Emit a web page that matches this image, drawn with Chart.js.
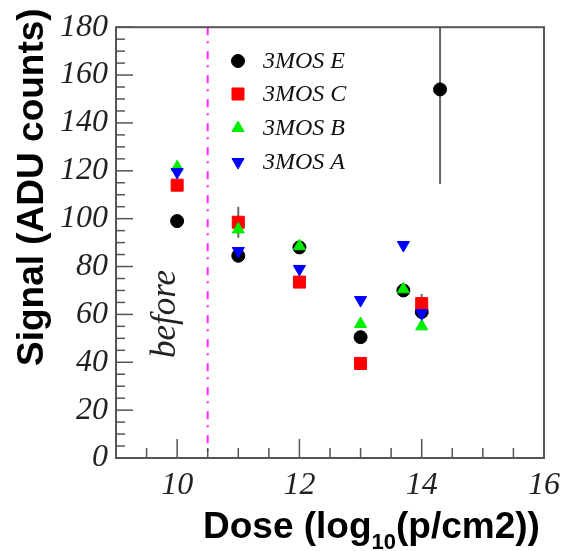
<!DOCTYPE html>
<html>
<head>
<meta charset="utf-8">
<script src="https://cdn.jsdelivr.net/npm/chart.js@4.4.0/dist/chart.umd.min.js"></script>
<style>
  body { margin: 0; background: #fff; }
  #wrap { width: 568px; height: 551px; }
</style>
</head>
<body>
<div id="wrap"><canvas id="doseChart"></canvas></div>
<script>
// dose (log10 p/cm2) and signal (ADU counts) for each device
const doseE = [10, 11, 12, 13, 13.7, 14, 14.3];
const signalE = [99, 84.5, 88, 50.5, 70, 61, 154];
const errE = [0, 0, 0, 0, 0, 0, 39.5];

const doseC = [10, 11, 12, 13, 14];
const signalC = [114, 98.5, 73.5, 39.5, 64.5];
const errC = [0, 6.5, 0, 0, 4];

const doseB = [10, 11, 12, 13, 13.7, 14];
const signalB = [121.5, 95.5, 88.5, 56, 70.5, 55];

const doseA = [10, 11, 12, 13, 13.7, 14];
const signalA = [119.5, 86.5, 79, 66, 89, 60.5];

const seriesLabels = ['3MOS E', '3MOS C', '3MOS B', '3MOS A'];
const xLabelTicks = [10, 12, 14, 16];
const beforeDose = 10.5;

const toPoints = (xs, ys) => xs.map((v, i) => ({ x: v, y: ys[i] }));

const serifItalic = sz => `italic ${sz}px "Liberation Serif", "DejaVu Serif", serif`;
const sansBold = sz => `bold ${sz}px "Liberation Sans", Arial, sans-serif`;

// frame, inner ticks, error bars, legend and titles
const decor = {
  id: 'decor',
  beforeDatasetsDraw(chart) {
    const { ctx, chartArea: a, scales: { x, y } } = chart;
    ctx.save();
    ctx.beginPath();
    ctx.rect(a.left, a.top, a.right - a.left, a.bottom - a.top);
    ctx.clip();

    // "before" separator (dash-dot)
    const bx = x.getPixelForValue(beforeDose);
    ctx.strokeStyle = '#ff22ff';
    ctx.lineWidth = 2;
    ctx.setLineDash([8, 6, 2, 8]);
    ctx.beginPath();
    ctx.moveTo(bx, a.top);
    ctx.lineTo(bx, a.bottom);
    ctx.stroke();
    ctx.setLineDash([]);

    // error bars
    chart.data.datasets.forEach(ds => {
      if (!ds.errY) return;
      ds.data.forEach((p, i) => {
        const e = ds.errY[i];
        if (!e) return;
        const px = x.getPixelForValue(p.x);
        ctx.strokeStyle = '#666';
        ctx.lineWidth = 2;
        ctx.beginPath();
        ctx.moveTo(px, y.getPixelForValue(p.y + e));
        ctx.lineTo(px, y.getPixelForValue(p.y - e));
        ctx.stroke();
      });
    });
    ctx.restore();
  },
  afterDraw(chart) {
    const { ctx, chartArea: a, scales: { x, y } } = chart;
    ctx.save();

    // ticks pointing into the frame
    ctx.strokeStyle = '#555';
    ctx.lineWidth = 1.5;
    x.ticks.forEach(t => {
      const px = x.getPixelForValue(t.value);
      const len = (t.value % 2 === 0) ? 19 : 10;
      ctx.beginPath();
      ctx.moveTo(px, a.bottom);
      ctx.lineTo(px, a.bottom - len);
      ctx.stroke();
    });
    y.ticks.forEach(t => {
      const py = y.getPixelForValue(t.value);
      const len = (t.value % 20 === 0) ? 17 : 9;
      ctx.beginPath();
      ctx.moveTo(a.left, py);
      ctx.lineTo(a.left + len, py);
      ctx.stroke();
    });

    // frame
    ctx.lineWidth = 2;
    ctx.strokeRect(a.left, a.top, a.right - a.left, a.bottom - a.top);

    // legend
    const rows = [61, 94, 128, 162];
    chart.data.datasets.forEach((ds, i) => {
      ctx.fillStyle = ds.backgroundColor;
      ctx.strokeStyle = ds.borderColor;
      ctx.lineWidth = 1;
      Chart.helpers.drawPoint(ctx, {
        pointStyle: ds.pointStyle,
        radius: ds.pointRadius,
        rotation: ds.pointRotation || 0,
        borderWidth: 1
      }, 238, rows[i]);
      ctx.fillStyle = '#111';
      ctx.font = serifItalic(24);
      ctx.textAlign = 'left';
      ctx.textBaseline = 'middle';
      ctx.fillText(ds.label, 263, rows[i] + 1);
    });

    // "before" label
    ctx.save();
    ctx.translate(175, 314);
    ctx.rotate(-Math.PI / 2);
    ctx.font = serifItalic(35);
    ctx.fillStyle = '#222';
    ctx.textAlign = 'center';
    ctx.textBaseline = 'alphabetic';
    ctx.fillText('before', 0, 0);
    ctx.restore();

    // y title
    ctx.save();
    ctx.translate(43, 366);
    ctx.rotate(-Math.PI / 2);
    ctx.font = sansBold(37);
    ctx.fillStyle = '#000';
    ctx.textAlign = 'left';
    ctx.textBaseline = 'alphabetic';
    ctx.fillText('Signal (ADU counts)', 0, 0);
    ctx.restore();

    // x title with subscript
    ctx.fillStyle = '#000';
    ctx.textAlign = 'left';
    ctx.textBaseline = 'alphabetic';
    let tx = 203;
    const base = 538;
    ctx.font = sansBold(37);
    ctx.fillText('Dose (log', tx, base);
    tx += ctx.measureText('Dose (log').width;
    ctx.font = sansBold(22);
    ctx.fillText('10', tx, base + 11);
    tx += ctx.measureText('10').width;
    ctx.font = sansBold(37);
    ctx.fillText('(p/cm2))', tx, base);

    ctx.restore();
  }
};

const ctx1 = document.getElementById('doseChart');
const doseChart = new Chart(ctx1.getContext('2d'), {
  type: 'scatter',
  data: {
    datasets: [
      {
        label: seriesLabels[0],
        data: toPoints(doseE, signalE),
        errY: errE,
        pointStyle: 'circle',
        pointRadius: 6.5,
        backgroundColor: '#000000',
        borderColor: '#000000',
        order: 4
      },
      {
        label: seriesLabels[1],
        data: toPoints(doseC, signalC),
        errY: errC,
        pointStyle: 'rect',
        pointRadius: 8.5,
        backgroundColor: '#ff0000',
        borderColor: '#ff0000',
        order: 3
      },
      {
        label: seriesLabels[2],
        data: toPoints(doseB, signalB),
        pointStyle: 'triangle',
        pointRadius: 7,
        backgroundColor: '#00ee00',
        borderColor: '#00ee00',
        order: 2
      },
      {
        label: seriesLabels[3],
        data: toPoints(doseA, signalA),
        pointStyle: 'triangle',
        pointRotation: 180,
        pointRadius: 7,
        backgroundColor: '#0000ff',
        borderColor: '#0000ff',
        order: 1
      }
    ]
  },
  options: {
    responsive: true,
    maintainAspectRatio: false,
    animation: false,
    layout: { padding: { top: 26, right: 22, left: 0, bottom: 0 } },
    scales: {
      x: {
        type: 'linear',
        min: 9,
        max: 16,
        grid: { display: false, drawTicks: false },
        border: { display: false },
        afterFit: scale => { scale.height = 93; },
        ticks: {
          stepSize: 0.5,
          autoSkip: false,
          maxRotation: 0,
          padding: 8,
          color: '#222',
          font: { family: '"Liberation Serif", serif', style: 'italic', size: 32 },
          callback: v => xLabelTicks.includes(v) ? v : ''
        }
      },
      y: {
        type: 'linear',
        min: 0,
        max: 180,
        grid: { display: false, drawTicks: false },
        border: { display: false },
        afterFit: scale => { scale.width = 116; },
        ticks: {
          stepSize: 5,
          autoSkip: false,
          padding: 8,
          color: '#222',
          font: { family: '"Liberation Serif", serif', style: 'italic', size: 32 },
          callback: v => (v % 20 === 0) ? v : ''
        }
      }
    },
    plugins: {
      legend: { display: false },
      tooltip: { enabled: false }
    }
  },
  plugins: [decor]
});
</script>
</body>
</html>
